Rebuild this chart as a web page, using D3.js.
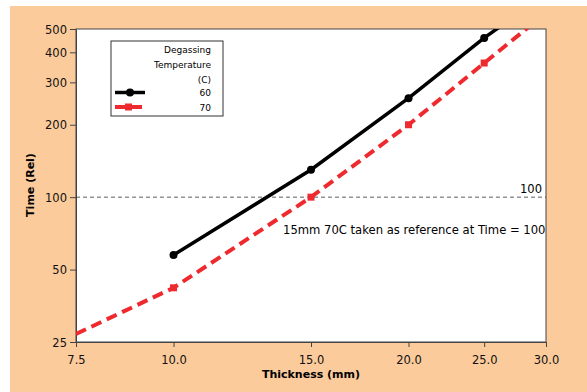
<!DOCTYPE html>
<html>
<head>
<meta charset="utf-8">
<script src="https://cdn.jsdelivr.net/npm/d3@7"></script>
<style>
  body { margin: 0; background: #fff; }
  svg { display: block; font-family: "DejaVu Sans", Verdana, sans-serif; }
</style>
</head>
<body>
<svg id="chart" width="587" height="392"></svg>
<script>
// data
const thickness = [7.5, 10, 15, 20, 25, 30];
const time60 = [null, 57.5, 130, 258, 459, 700];
const time70 = [27, 42, 100, 200, 361, 583];
const seriesNames = ['60', '70'];
const xTicks = [7.5, 10, 15, 20, 25, 30];
const yTicks = [25, 50, 100, 200, 300, 400, 500];
const refValue = 100;

const svg = d3.select('#chart');
const m = { left: 76, right: 546, top: 29, bottom: 342 };

svg.append('rect')
  .attr('x', 10).attr('y', 6).attr('width', 577).attr('height', 386)
  .attr('fill', '#fbcb9b');
svg.append('rect')
  .attr('x', m.left).attr('y', m.top)
  .attr('width', m.right - m.left).attr('height', m.bottom - m.top)
  .attr('fill', '#fff').attr('stroke', '#444').attr('stroke-width', 1);

const x = d3.scaleLog().domain([7.5, 30]).range([m.left, m.right]);
const y = d3.scaleLog().domain([25, 500]).range([m.bottom, m.top]);

// axes
const xAxis = svg.append('g')
  .attr('transform', `translate(0,${m.bottom})`)
  .call(d3.axisBottom(x).tickValues(xTicks).tickFormat(d3.format('.1f')).tickSize(5).tickSizeOuter(0));
const yAxis = svg.append('g')
  .attr('transform', `translate(${m.left},0)`)
  .call(d3.axisLeft(y).tickValues(yTicks).tickFormat(d3.format('d')).tickSize(6).tickSizeOuter(0));
[xAxis, yAxis].forEach(g => {
  g.selectAll('path').attr('stroke', '#444');
  g.selectAll('line').attr('stroke', '#444');
  g.selectAll('text').attr('fill', '#111').style('font-size', '11.5px').style('font-family', '"DejaVu Sans", sans-serif');
});
xAxis.selectAll('text').attr('dy', '1.2em');
yAxis.selectAll('text').attr('x', -9).attr('dy', '0.36em');

svg.append('text')
  .attr('x', 311).attr('y', 378)
  .attr('text-anchor', 'middle')
  .style('font-size', '11px').style('font-weight', 'bold')
  .text('Thickness (mm)');
svg.append('text')
  .attr('transform', 'translate(34,185) rotate(-90)')
  .attr('text-anchor', 'middle')
  .style('font-size', '11px').style('font-weight', 'bold')
  .text('Time (Rel)');

// reference line
svg.append('line')
  .attr('x1', m.left).attr('x2', m.right)
  .attr('y1', y(refValue)).attr('y2', y(refValue))
  .attr('stroke', '#333').attr('stroke-width', 0.8)
  .attr('stroke-dasharray', '4,3');
svg.append('text')
  .attr('x', 542).attr('y', y(refValue) - 4)
  .attr('text-anchor', 'end')
  .style('font-size', '11.5px')
  .text(refValue);
svg.append('text')
  .attr('x', 283).attr('y', 234)
  .style('font-size', '11.6px')
  .text('15mm 70C taken as reference at Time = 100');

// series
svg.append('clipPath').attr('id', 'clip')
  .append('rect')
  .attr('x', m.left).attr('y', m.top)
  .attr('width', m.right - m.left).attr('height', m.bottom - m.top);

const plot = svg.append('g').attr('clip-path', 'url(#clip)');

const pts = vals => thickness.map((t, i) => ({ t, v: vals[i] })).filter(d => d.v != null);
const line = d3.line().x(d => x(d.t)).y(d => y(d.v));
const inside = d => d.t > 7.5 && d.t < 30;

const black = pts(time60);
const red = pts(time70);

plot.append('path').datum(red)
  .attr('d', line)
  .attr('fill', 'none').attr('stroke', '#ee2a2f').attr('stroke-width', 4)
  .attr('stroke-dasharray', '11,6');
plot.selectAll('.sq').data(red.filter(inside)).enter().append('rect')
  .attr('x', d => x(d.t) - 3.5).attr('y', d => y(d.v) - 3.5)
  .attr('width', 7).attr('height', 7)
  .attr('fill', '#ee2a2f');

plot.append('path').datum(black)
  .attr('d', line)
  .attr('fill', 'none').attr('stroke', '#000').attr('stroke-width', 3.5);
plot.selectAll('.dot').data(black.filter(inside)).enter().append('circle')
  .attr('cx', d => x(d.t)).attr('cy', d => y(d.v)).attr('r', 4)
  .attr('fill', '#000');

// legend
const lg = svg.append('g');
lg.append('rect')
  .attr('x', 111).attr('y', 41).attr('width', 112).attr('height', 75)
  .attr('fill', '#fff').attr('stroke', '#333').attr('stroke-width', 1);
['Degassing', 'Temperature', '(C)'].forEach((s, i) => {
  lg.append('text')
    .attr('x', 211).attr('y', 53 + i * 15)
    .attr('text-anchor', 'end')
    .style('font-size', '9px')
    .text(s);
});
seriesNames.forEach((s, i) => {
  const ly = 92.5 + i * 14.5;
  lg.append('text')
    .attr('x', 211).attr('y', ly + 3.5)
    .attr('text-anchor', 'end')
    .style('font-size', '9px')
    .text(s);
  if (i === 0) {
    lg.append('line').attr('x1', 115).attr('x2', 145).attr('y1', ly).attr('y2', ly)
      .attr('stroke', '#000').attr('stroke-width', 3.5);
    lg.append('circle').attr('cx', 130).attr('cy', ly).attr('r', 4).attr('fill', '#000');
  } else {
    lg.append('line').attr('x1', 115).attr('x2', 142).attr('y1', ly).attr('y2', ly)
      .attr('stroke', '#ee2a2f').attr('stroke-width', 4);
    lg.append('rect').attr('x', 125).attr('y', ly - 3.5).attr('width', 7).attr('height', 7).attr('fill', '#ee2a2f');
  }
});
</script>
</body>
</html>
